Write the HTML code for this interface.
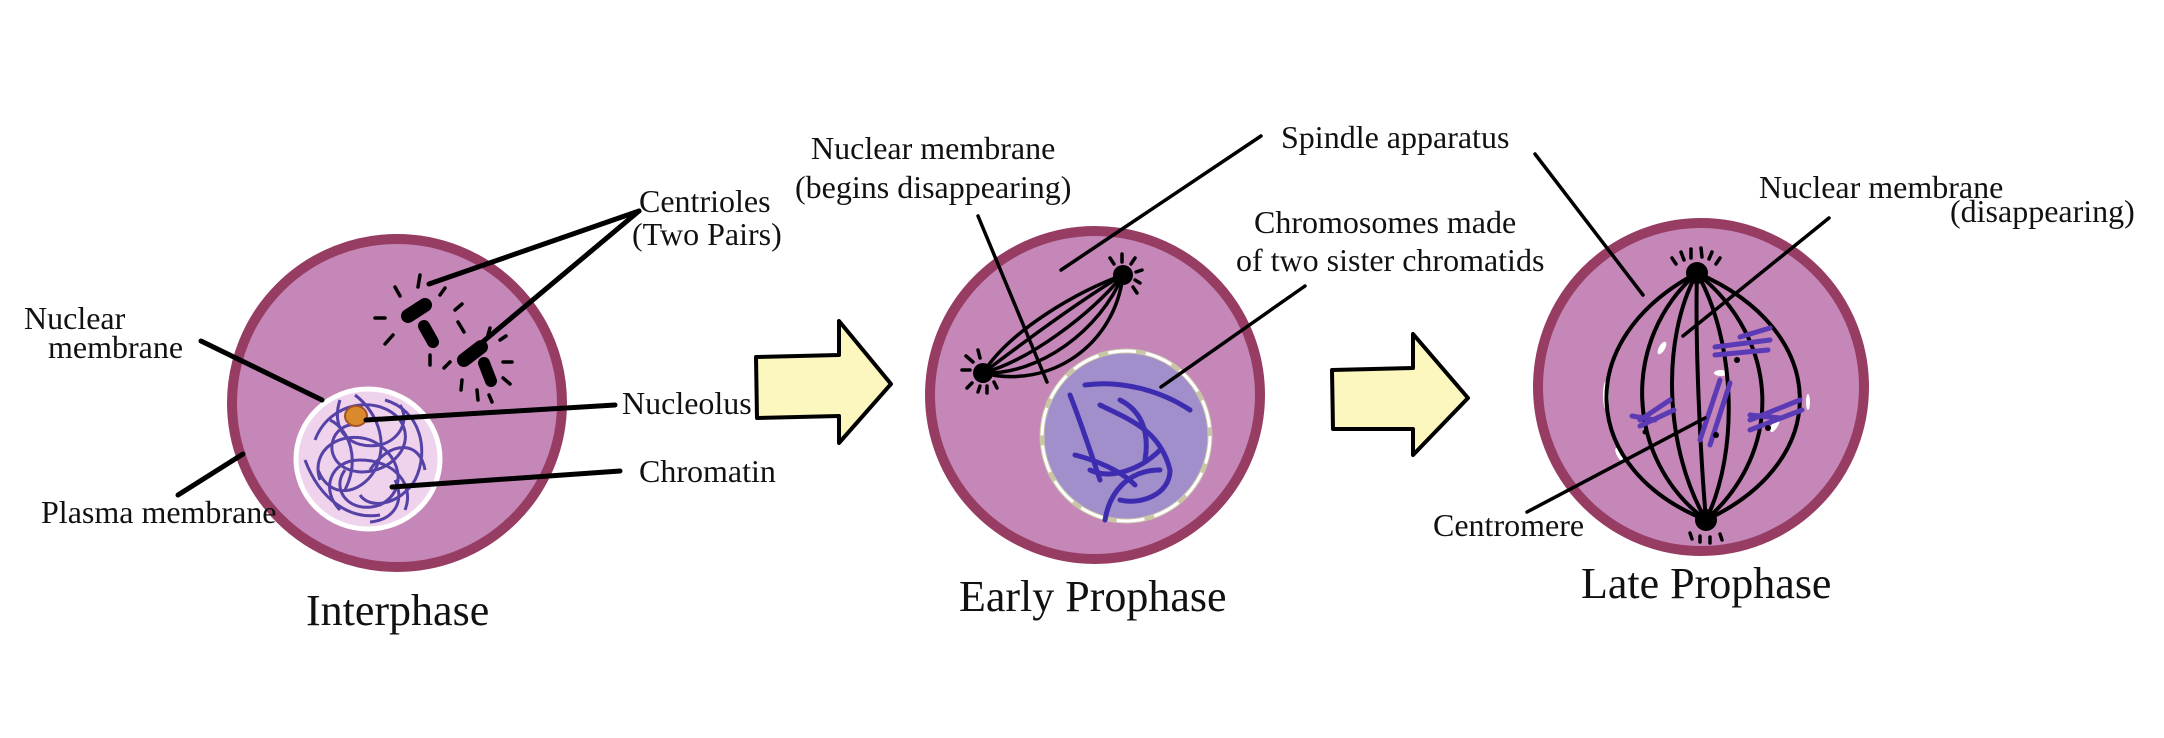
<!DOCTYPE html>
<html><head><meta charset="utf-8"><style>
html,body{margin:0;padding:0;background:#fff;}
svg{display:block;}
text{font-family:"Liberation Serif",serif;fill:#111;}
</style></head><body>
<svg width="2164" height="738" viewBox="0 0 2164 738" xmlns="http://www.w3.org/2000/svg">
<!-- Interphase cell -->
<ellipse cx="397" cy="403" rx="165" ry="164" fill="#c586b8" stroke="#973d63" stroke-width="10"/>
<ellipse cx="368" cy="459" rx="72" ry="70" fill="#efd2ec" stroke="#fff" stroke-width="5"/>
<g fill="none" stroke="#3b2a9c" stroke-width="3" opacity="0.85">
<path d="M315 440 C330 400 380 395 400 420 C420 450 380 480 350 470 C320 460 330 420 360 425"/>
<path d="M320 480 C310 450 340 430 370 440 C400 452 410 490 380 505 C350 515 330 490 345 470"/>
<path d="M340 510 C320 490 330 460 360 460 C395 460 415 485 405 510"/>
<path d="M385 400 C420 410 430 450 415 480 C400 505 370 510 360 495"/>
<path d="M330 420 C350 430 360 460 345 490 M370 470 C390 440 420 440 425 470"/>
<path d="M355 395 C375 410 390 440 375 470 C360 495 330 500 318 470"/>
<path d="M395 480 C405 500 395 520 370 522"/>
<path d="M305 460 C320 500 350 520 380 515 M340 400 C330 430 350 450 380 445 C400 440 410 420 400 405"/>
</g>
<ellipse cx="356" cy="416" rx="11" ry="10" fill="#d98a2c" stroke="#a4512a" stroke-width="2"/>
<g stroke="#000" stroke-linecap="round">
<line x1="408" y1="316" x2="425" y2="305" stroke-width="14"/>
<line x1="424" y1="326" x2="433" y2="342" stroke-width="12"/>
<line x1="464" y1="360" x2="481" y2="347" stroke-width="14"/>
<line x1="484" y1="363" x2="491" y2="381" stroke-width="12"/>
<g stroke-width="3.5">
<line x1="395" y1="287" x2="400" y2="296"/><line x1="420" y1="275" x2="418" y2="287"/><line x1="445" y1="288" x2="440" y2="295"/>
<line x1="375" y1="318" x2="385" y2="318"/><line x1="385" y1="344" x2="393" y2="335"/><line x1="455" y1="310" x2="462" y2="304"/>
<line x1="458" y1="322" x2="464" y2="332"/><line x1="430" y1="355" x2="430" y2="365"/><line x1="444" y1="368" x2="450" y2="362"/>
<line x1="488" y1="335" x2="490" y2="328"/><line x1="500" y1="340" x2="506" y2="336"/><line x1="503" y1="362" x2="512" y2="362"/>
<line x1="503" y1="378" x2="510" y2="384"/><line x1="462" y1="380" x2="461" y2="390"/><line x1="477" y1="390" x2="478" y2="400"/><line x1="489" y1="395" x2="492" y2="402"/>
</g>
</g>
<g stroke="#000" stroke-width="5" stroke-linecap="round" fill="none">
<line x1="639" y1="211" x2="429" y2="284"/>
<line x1="639" y1="211" x2="473" y2="350"/>
<line x1="201" y1="341" x2="322" y2="400"/>
<line x1="366" y1="420" x2="615" y2="405"/>
<line x1="392" y1="487" x2="620" y2="471"/>
<line x1="178" y1="495" x2="243" y2="454"/>
</g>
<text x="639" y="212" font-size="32">Centrioles</text>
<text x="632" y="245" font-size="32">(Two Pairs)</text>
<text x="24" y="329" font-size="32">Nuclear</text>
<text x="48" y="358" font-size="32">membrane</text>
<text x="622" y="414" font-size="32">Nucleolus</text>
<text x="639" y="482" font-size="32">Chromatin</text>
<text x="41" y="523" font-size="32">Plasma membrane</text>
<text x="306" y="625" font-size="44">Interphase</text>

<!-- Arrow 1 -->
<path d="M756 357 L839 355 L839 321 L891 384 L839 443 L839 416 L757 418 Z" fill="#fcf7be" stroke="#000" stroke-width="4" stroke-linejoin="round"/>
<!-- Arrow 2 -->
<path d="M1332 370 L1413 368 L1413 334 L1468 398 L1413 455 L1413 429 L1333 429 Z" fill="#fcf7be" stroke="#000" stroke-width="4" stroke-linejoin="round"/>

<!-- Early prophase -->
<ellipse cx="1095" cy="395" rx="165" ry="164" fill="#c586b8" stroke="#973d63" stroke-width="10"/>
<ellipse cx="1126" cy="436" rx="84" ry="85" fill="#a08fca" stroke="#c9c6a8" stroke-width="5"/>
<ellipse cx="1126" cy="436" rx="84" ry="85" fill="none" stroke="#fff" stroke-width="3" stroke-dasharray="28 10"/>
<g fill="none" stroke="#3d2bb0" stroke-width="5" stroke-linecap="round">
<path d="M1070 395 C1080 420 1090 450 1100 480"/>
<path d="M1085 385 C1120 380 1160 390 1190 410"/>
<path d="M1100 405 C1130 420 1160 430 1170 470 C1170 495 1140 505 1120 500"/>
<path d="M1090 470 C1110 480 1140 470 1160 450"/>
<path d="M1075 455 C1095 460 1120 470 1135 485"/>
<path d="M1105 520 C1110 490 1130 470 1160 470"/>
<path d="M1120 400 C1140 410 1150 430 1145 460"/>
</g>
<g fill="none" stroke="#000" stroke-width="3.5">
<path d="M983 373 C1010 330 1080 290 1123 275"/>
<path d="M983 373 C1020 345 1080 300 1123 275"/>
<path d="M983 373 C1030 360 1090 315 1123 275"/>
<path d="M983 373 C1040 375 1100 330 1123 275"/>
<path d="M983 373 C1050 390 1115 345 1123 275"/>
</g>
<circle cx="983" cy="373" r="10" fill="#000"/>
<circle cx="1123" cy="275" r="10" fill="#000"/>
<g stroke="#000" stroke-width="3.5" stroke-linecap="round">
<line x1="962" y1="370" x2="970" y2="370"/><line x1="966" y1="356" x2="973" y2="362"/><line x1="978" y1="350" x2="980" y2="358"/>
<line x1="967" y1="388" x2="972" y2="383"/><line x1="978" y1="392" x2="980" y2="386"/><line x1="987" y1="393" x2="987" y2="386"/><line x1="997" y1="388" x2="994" y2="382"/>
<line x1="1110" y1="258" x2="1114" y2="264"/><line x1="1122" y1="254" x2="1122" y2="262"/><line x1="1135" y1="258" x2="1131" y2="264"/>
<line x1="1142" y1="270" x2="1136" y2="272"/><line x1="1140" y1="283" x2="1135" y2="280"/><line x1="1137" y1="293" x2="1133" y2="287"/>
</g>
<g stroke="#000" stroke-width="3.5" stroke-linecap="round" fill="none">
<line x1="978" y1="216" x2="1047" y2="382"/>
<line x1="1261" y1="136" x2="1061" y2="270"/>
<line x1="1305" y1="286" x2="1161" y2="387"/>
</g>
<text x="811" y="159" font-size="32">Nuclear membrane</text>
<text x="795" y="198" font-size="32">(begins disappearing)</text>
<text x="1281" y="148" font-size="32">Spindle apparatus</text>
<text x="1254" y="233" font-size="32">Chromosomes made</text>
<text x="1236" y="271" font-size="32">of two sister chromatids</text>
<text x="959" y="611" font-size="44">Early Prophase</text>

<!-- Late prophase -->
<ellipse cx="1701" cy="387" rx="163" ry="164" fill="#c586b8" stroke="#973d63" stroke-width="10"/>
<g fill="#fff">
<ellipse cx="1662" cy="348" rx="3" ry="7" transform="rotate(30 1662 348)"/>
<ellipse cx="1606" cy="395" rx="3" ry="14"/>
<ellipse cx="1721" cy="373" rx="7" ry="3"/>
<ellipse cx="1775" cy="425" rx="3" ry="8" transform="rotate(30 1775 425)"/>
<ellipse cx="1620" cy="455" rx="3" ry="8" transform="rotate(-30 1620 455)"/>
<ellipse cx="1808" cy="402" rx="2" ry="8"/>
</g>
<g fill="none" stroke="#000" stroke-width="4">
<path d="M1697 273 C1570 340 1580 470 1706 520"/>
<path d="M1697 273 C1620 340 1625 460 1706 520"/>
<path d="M1697 273 C1660 340 1665 450 1706 520"/>
<path d="M1697 273 C1695 340 1700 450 1706 520"/>
<path d="M1697 273 C1735 340 1740 450 1706 520"/>
<path d="M1697 273 C1780 340 1785 450 1706 520"/>
<path d="M1697 273 C1830 330 1835 460 1706 520"/>
</g>
<g stroke="#5a3bb5" stroke-width="5" stroke-linecap="round">
<line x1="1715" y1="347" x2="1770" y2="340"/><line x1="1715" y1="355" x2="1768" y2="350"/><line x1="1740" y1="337" x2="1770" y2="328"/>
<line x1="1720" y1="380" x2="1700" y2="440"/><line x1="1730" y1="383" x2="1710" y2="445"/>
<line x1="1640" y1="420" x2="1670" y2="400"/><line x1="1640" y1="426" x2="1674" y2="410"/><line x1="1632" y1="416" x2="1655" y2="420"/>
<line x1="1750" y1="420" x2="1800" y2="400"/><line x1="1750" y1="430" x2="1802" y2="410"/><line x1="1750" y1="415" x2="1780" y2="418"/>
</g>
<g fill="#000">
<circle cx="1737" cy="360" r="3"/><circle cx="1716" cy="435" r="3"/><circle cx="1645" cy="432" r="2.5"/><circle cx="1768" cy="428" r="3"/>
</g>
<circle cx="1697" cy="273" r="11" fill="#000"/>
<circle cx="1706" cy="520" r="11" fill="#000"/>
<g stroke="#000" stroke-width="3.5" stroke-linecap="round">
<line x1="1672" y1="258" x2="1676" y2="264"/><line x1="1681" y1="252" x2="1684" y2="260"/><line x1="1691" y1="249" x2="1691" y2="258"/><line x1="1701" y1="248" x2="1702" y2="257"/><line x1="1712" y1="252" x2="1709" y2="259"/><line x1="1720" y1="258" x2="1716" y2="264"/>
<line x1="1690" y1="533" x2="1692" y2="539"/><line x1="1700" y1="536" x2="1700" y2="542"/><line x1="1710" y1="537" x2="1710" y2="543"/><line x1="1720" y1="534" x2="1722" y2="540"/>
</g>
<g stroke="#000" stroke-width="3.5" stroke-linecap="round" fill="none">
<line x1="1535" y1="154" x2="1643" y2="295"/>
<line x1="1829" y1="218" x2="1683" y2="336"/>
<line x1="1527" y1="512" x2="1705" y2="418"/>
</g>
<text x="1759" y="198" font-size="32">Nuclear membrane</text>
<text x="1950" y="222" font-size="32">(disappearing)</text>
<text x="1433" y="536" font-size="32">Centromere</text>
<text x="1581" y="598" font-size="44">Late Prophase</text>
</svg>
</body></html>
